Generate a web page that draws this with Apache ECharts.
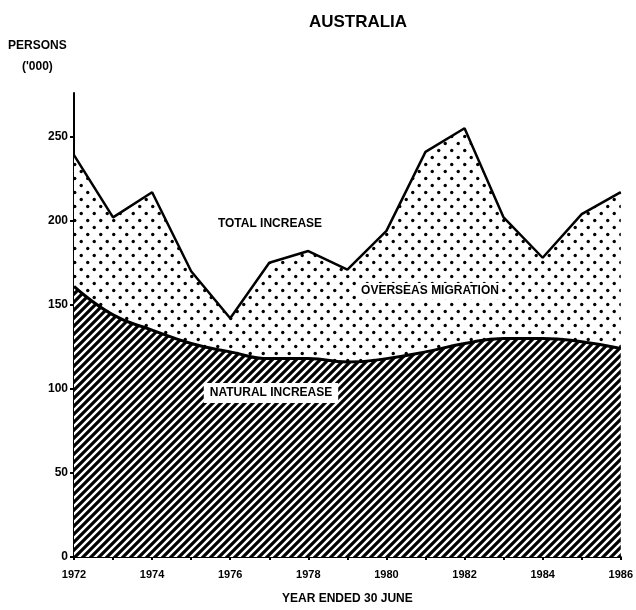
<!DOCTYPE html>
<html>
<head>
<meta charset="utf-8">
<script src="https://cdn.jsdelivr.net/npm/echarts@6/dist/echarts.min.js"></script>
<style>
  html, body { margin: 0; padding: 0; background: #fff; }
  #main { width: 636px; height: 610px; }
</style>
</head>
<body>
<div id="main"></div>
<script>
// year ended 30 June
const years = [1972, 1973, 1974, 1975, 1976, 1977, 1978, 1979, 1980, 1981, 1982, 1983, 1984, 1985, 1986];
// total increase ('000)
const totalIncrease = [239, 202, 217, 170, 142, 175, 182, 171, 194, 241, 255, 202, 178, 204, 217];
// natural increase ('000)
const naturalIncrease = [161, 144, 135, 127, 122, 118, 118, 116, 118, 122, 127, 130, 130, 128, 124];
const yTicks = [0, 50, 100, 150, 200, 250];

const FONT = '"Liberation Sans", Arial, sans-serif';

// fill patterns
function hatchPattern() {
    const s = 8;
    const c = document.createElement('canvas');
    c.width = s; c.height = s;
    const ctx = c.getContext('2d');
    ctx.fillStyle = '#fff';
    ctx.fillRect(0, 0, s, s);
    ctx.strokeStyle = '#000';
    ctx.lineWidth = 3.2;
    ctx.beginPath();
    ctx.moveTo(-2, s + 2); ctx.lineTo(s + 2, -2);
    ctx.moveTo(-s / 2 - 2, s / 2 + 2); ctx.lineTo(s / 2 + 2, -s / 2 - 2);
    ctx.moveTo(s / 2 - 2, s * 1.5 + 2); ctx.lineTo(s * 1.5 + 2, s / 2 - 2);
    ctx.stroke();
    return c;
}
function dotPattern() {
    const w = 13, h = 14;
    const c = document.createElement('canvas');
    c.width = w; c.height = h;
    const ctx = c.getContext('2d');
    ctx.fillStyle = '#fff';
    ctx.fillRect(0, 0, w, h);
    ctx.fillStyle = '#000';
    [[3.25, 3.5], [9.75, 10.5]].forEach(p => {
        ctx.beginPath();
        ctx.arc(p[0], p[1], 1.7, 0, Math.PI * 2);
        ctx.fill();
    });
    return c;
}

const totalData = years.map((y, i) => [y, totalIncrease[i]]);
const naturalData = years.map((y, i) => [y, naturalIncrease[i]]);

const chart = echarts.init(document.getElementById('main'));
const option = {
    backgroundColor: '#fff',
    animation: false,
    title: {
        text: 'AUSTRALIA',
        left: 353,
        textAlign: 'center',
        top: 9,
        textStyle: { fontFamily: FONT, fontWeight: 'bold', fontSize: 17, color: '#000' }
    },
    grid: { left: 74, right: 13, top: 93, bottom: 48 },
    xAxis: {
        type: 'value',
        min: 1972,
        max: 1986,
        interval: 1,
        name: 'YEAR ENDED 30 JUNE',
        nameLocation: 'middle',
        nameGap: 36,
        nameTextStyle: { fontFamily: FONT, fontWeight: 'bold', fontSize: 12, color: '#000' },
        axisLine: { show: true, onZero: false, lineStyle: { color: '#000', width: 2 } },
        axisTick: { show: true, length: 3, lineStyle: { color: '#000', width: 2 } },
        axisLabel: {
            margin: 12,
            fontFamily: FONT, fontWeight: 'bold', fontSize: 11, color: '#000',
            formatter: v => (v % 2 === 0 ? String(v) : '')
        },
        splitLine: { show: false }
    },
    yAxis: {
        type: 'value',
        min: 0,
        max: 276,
        axisLine: { show: true, lineStyle: { color: '#000', width: 2 } },
        axisTick: { show: true, length: 4, customValues: yTicks, lineStyle: { color: '#000', width: 2 } },
        axisLabel: {
            margin: 6,
            customValues: yTicks,
            fontFamily: FONT, fontWeight: 'bold', fontSize: 12, color: '#000'
        },
        splitLine: { show: false }
    },
    series: [
        {
            name: 'TOTAL INCREASE',
            type: 'line',
            data: totalData,
            showSymbol: false,
            lineStyle: { color: '#000', width: 2.5 },
            areaStyle: { color: { image: dotPattern(), repeat: 'repeat' }, opacity: 1 },
            z: 2
        },
        {
            name: 'NATURAL INCREASE',
            type: 'line',
            data: naturalData,
            smooth: 0.5,
            showSymbol: false,
            lineStyle: { color: '#000', width: 3 },
            areaStyle: { color: { image: hatchPattern(), repeat: 'repeat' }, opacity: 1 },
            z: 3
        }
    ],
    graphic: [
        {
            type: 'text', left: 8, top: 40, z: 10,
            style: { text: 'PERSONS', font: 'bold 12px ' + FONT, fill: '#000' }
        },
        {
            type: 'text', left: 22, top: 61, z: 10,
            style: { text: "('000)", font: 'bold 12px ' + FONT, fill: '#000' }
        },
        {
            type: 'text', x: 270, y: 224, z: 10,
            style: { text: 'TOTAL INCREASE', font: 'bold 12px ' + FONT, fill: '#000', align: 'center', verticalAlign: 'middle' }
        },
        {
            type: 'text', x: 430, y: 291, z: 10,
            style: {
                text: 'OVERSEAS MIGRATION', font: 'bold 12px ' + FONT, fill: '#000',
                align: 'center', verticalAlign: 'middle',
                backgroundColor: '#fff', padding: [2, 3]
            }
        },
        {
            type: 'text', x: 271, y: 393, z: 10,
            style: {
                text: 'NATURAL INCREASE', font: 'bold 12px ' + FONT, fill: '#000',
                align: 'center', verticalAlign: 'middle',
                backgroundColor: '#fff', padding: [4, 6]
            }
        }
    ]
};
chart.setOption(option);
</script>
</body>
</html>
